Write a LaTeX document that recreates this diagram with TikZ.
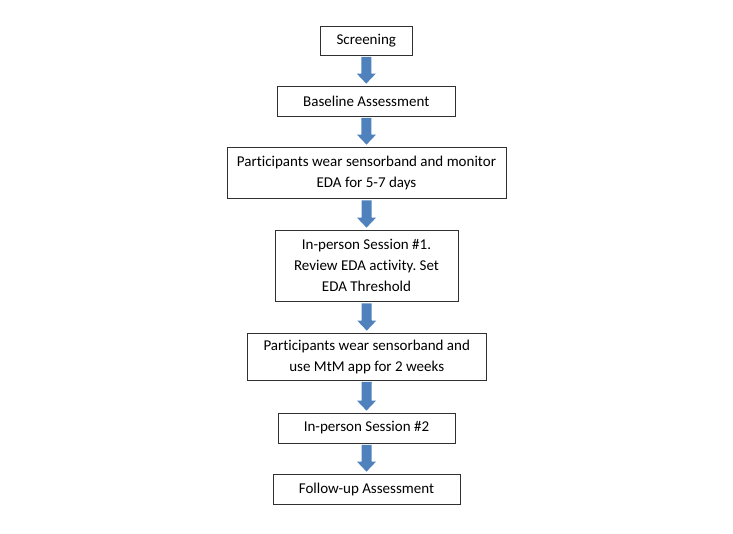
\documentclass[tikz,border=0pt]{standalone}
\usepackage{fontspec}
\setmainfont[Ligatures=NoCommon]{Carlito}
\usetikzlibrary{calc}
\frenchspacing
\definecolor{arrowblue}{HTML}{4F81BD}
\definecolor{boxline}{HTML}{303030}
\tikzset{
  flowbox/.style={draw=boxline, line width=0.75pt, fill=white, align=center,
    inner sep=0pt, font=\fontsize{15pt}{21pt}\selectfont},
}
\newcommand\flowarrow[2]{%
  \fill[arrowblue]
    ($(#1.south)+(-5,1.5)$) -- ($(#1.south)+(5,1.5)$) --
    ($(#2.north)+(5,-12)$) -- ($(#2.north)+(9.5,-12)$) --
    ($(#2.north)+(0,-2)$) -- ($(#2.north)+(-9.5,-12)$) --
    ($(#2.north)+(-5,-12)$) -- cycle;}
\begin{document}
\begin{tikzpicture}[x=1pt,y=-1pt]
\useasboundingbox (0,0) rectangle (733,533);
\node[flowbox, minimum width=92.5pt, minimum height=28.5pt] (s1) at (366.25,40.75) {Screening};
\node[flowbox, minimum width=177.5pt, minimum height=30pt] (s2) at (366.25,101) {Baseline Assessment};
\node[flowbox, minimum width=279pt, minimum height=51.5pt] (s3) at (366.5,172.75) {Participants wear sensorband and monitor\\EDA for 5-7 days};
\node[flowbox, minimum width=183pt, minimum height=71.5pt] (s4) at (366.5,265.75) {In-person Session \#1.\\Review EDA activity. Set\\EDA Threshold};
\node[flowbox, minimum width=239.5pt, minimum height=47pt] (s5) at (366.75,356.5) {Participants wear sensorband and\\use MtM app for 2 weeks};
\node[flowbox, minimum width=177pt, minimum height=30pt] (s6) at (366.5,428) {In-person Session \#2};
\node[flowbox, minimum width=187pt, minimum height=30pt] (s7) at (366.5,489) {Follow-up Assessment};
\flowarrow{s1}{s2}
\flowarrow{s2}{s3}
\flowarrow{s3}{s4}
\flowarrow{s4}{s5}
\flowarrow{s5}{s6}
\flowarrow{s6}{s7}
\end{tikzpicture}
\end{document}
